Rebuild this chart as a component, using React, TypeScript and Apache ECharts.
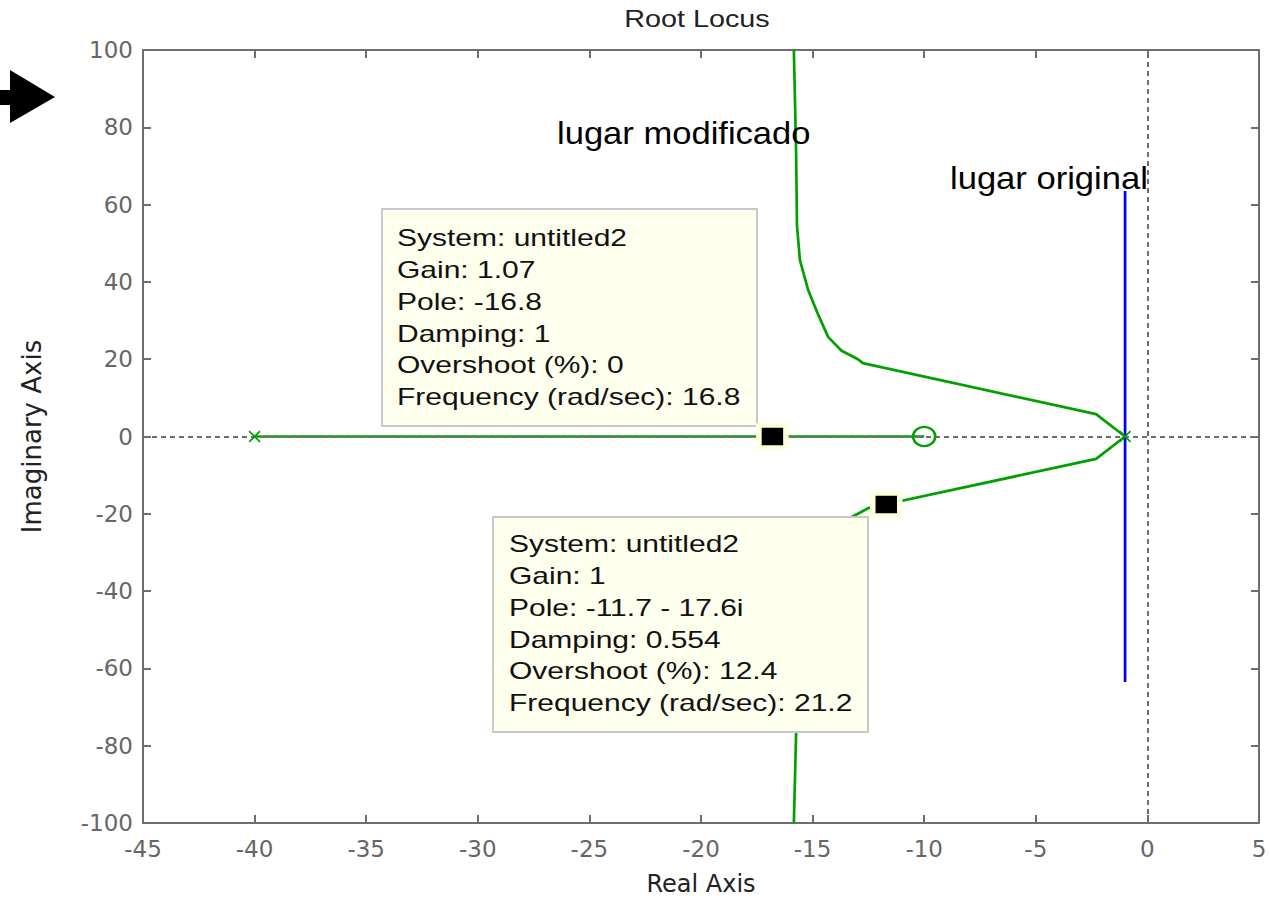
import React, { useEffect, useRef } from "react";
import * as echarts from "echarts";

const chartTitle = "Root Locus";
const xAxisName = "Real Axis";
const yAxisName = "Imaginary Axis";

const upperBranchX = [-1, -2.3, -12.75, -12.97, -13.7, -14.3, -14.74, -15.2, -15.57, -15.7, -15.74, -15.84];
const upperBranchY = [0, 5.8, 19.0, 20.0, 22.2, 25.7, 31.4, 37.9, 45.7, 54.7, 74, 100];
const lowerBranchX = [-1, -2.3, -12.5, -12.97, -13.7, -14.3, -14.74, -15.2, -15.57, -15.7, -15.74, -15.84];
const lowerBranchY = [0, -5.8, -18.5, -20.0, -22.2, -25.7, -31.4, -37.9, -45.7, -54.7, -77, -100];
const realSegmentX = [-40, -10];
const realSegmentY = [0, 0];
const originalLocusX = [-1, -1];
const originalLocusY = [63.5, -63.5];
const polesX = [-40, -1];
const polesY = [0, 0];
const zerosX = [-10];
const zerosY = [0];
const datatipX = [-16.8, -11.7];
const datatipY = [0, -17.6];

const tip1Lines = [
  "System: untitled2",
  "Gain: 1.07",
  "Pole: -16.8",
  "Damping: 1",
  "Overshoot (%): 0",
  "Frequency (rad/sec): 16.8",
];
const tip2Lines = [
  "System: untitled2",
  "Gain: 1",
  "Pole: -11.7 - 17.6i",
  "Damping: 0.554",
  "Overshoot (%): 12.4",
  "Frequency (rad/sec): 21.2",
];
const labelModified = "lugar modificado";
const labelOriginal = "lugar original";

const FONT = "DejaVu Sans";
const LIB = "Liberation Sans";
const GREEN = "#00a000";
const AXIS = "#6e6e6e";

const zip = (xs: number[], ys: number[]) => xs.map((x, i) => [x, ys[i]]);

export default function App() {
  const ref = useRef<HTMLDivElement>(null);
  useEffect(() => {
    if (!ref.current) return;
    const chart = echarts.init(ref.current, undefined, { renderer: "svg" });
    const xSymbol = "path://M0,1 L1,0 L5,4 L9,0 L10,1 L6,5 L10,9 L9,10 L5,6 L1,10 L0,9 L4,5 Z";
    const axisCommon = {
      type: "value" as const,
      axisLine: { show: true, onZero: false, lineStyle: { color: AXIS, width: 2 } },
      axisTick: { show: true, inside: true, length: 8, lineStyle: { color: AXIS, width: 2 } },
      splitLine: { show: false },
    };
    const labelStyle = { color: "#666", fontSize: 23, fontFamily: FONT };
    chart.setOption({
      animation: false,
      backgroundColor: "#fff",
      grid: { left: 143, right: 11, top: 50, bottom: 77, containLabel: false, outerBoundsMode: "none" },
      xAxis: [
        {
          ...axisCommon,
          min: -45,
          max: 5,
          interval: 5,
          position: "bottom",
          axisLabel: { ...labelStyle, margin: 14 },
          name: xAxisName,
          nameLocation: "middle",
          nameGap: 49,
          nameTextStyle: { color: "#222", fontSize: 24, fontFamily: FONT },
        },
        {
          ...axisCommon,
          min: -45,
          max: 5,
          interval: 5,
          position: "top",
          axisLabel: { show: false },
        },
      ],
      yAxis: [
        {
          ...axisCommon,
          min: -100,
          max: 100,
          interval: 20,
          position: "left",
          axisLabel: { ...labelStyle, margin: 10 },
          name: yAxisName,
          nameLocation: "middle",
          nameGap: 98,
          nameTextStyle: { color: "#222", fontSize: 26, fontFamily: FONT },
        },
        {
          ...axisCommon,
          min: -100,
          max: 100,
          interval: 20,
          position: "right",
          axisLabel: { show: false },
        },
      ],
      series: [
        {
          type: "line",
          data: zip(upperBranchX, upperBranchY),
          showSymbol: false,
          lineStyle: { color: GREEN, width: 2.7 },
          z: 2,
        },
        {
          type: "line",
          data: zip(lowerBranchX, lowerBranchY),
          showSymbol: false,
          lineStyle: { color: GREEN, width: 2.7 },
          z: 2,
        },
        {
          type: "line",
          data: zip(realSegmentX, realSegmentY),
          showSymbol: false,
          lineStyle: { color: GREEN, width: 2.7 },
          z: 2,
        },
        {
          type: "line",
          data: zip(originalLocusX, originalLocusY),
          showSymbol: false,
          lineStyle: { color: "#0000ff", width: 2.7 },
          z: 3,
        },
        {
          type: "line",
          data: [[0, 0]],
          showSymbol: false,
          lineStyle: { opacity: 0 },
          z: 4,
          markLine: {
            silent: true,
            symbol: ["none", "none"],
            label: { show: false },
            lineStyle: { type: [5, 4], color: AXIS, width: 2 },
            data: [{ xAxis: 0 }, { yAxis: 0 }],
          },
        },
        {
          type: "scatter",
          data: zip(polesX, polesY),
          symbol: xSymbol,
          symbolSize: 12,
          itemStyle: { color: GREEN, opacity: 1 },
          z: 5,
        },
        {
          type: "scatter",
          data: zip(zerosX, zerosY),
          symbol: "circle",
          symbolSize: [22, 19],
          itemStyle: { color: "transparent", borderColor: GREEN, borderWidth: 2.5, opacity: 1 },
          z: 5,
        },
        {
          type: "scatter",
          data: zip(datatipX, datatipY),
          symbol: "rect",
          symbolSize: [27, 22],
          itemStyle: { color: "#000", borderColor: "#ffffdc", borderWidth: 5, opacity: 1 },
          z: 60,
        },
      ],
      graphic: [
        {
          type: "text",
          z: 50,
          x: 697,
          y: 19,
          scaleX: 1.25,
          style: {
            text: chartTitle,
            font: `23px '${LIB}'`,
            fill: "#222",
            textAlign: "center",
            textVerticalAlign: "middle",
          },
        },
        {
          type: "polygon",
          z: 50,
          shape: { points: [[0, 90], [10, 90], [10, 70], [55, 97], [10, 123], [10, 105], [0, 105]] },
          style: { fill: "#000" },
        },
        {
          type: "text",
          z: 50,
          x: 557,
          y: 133,
          scaleX: 1.08,
          style: { text: labelModified, font: `32px '${LIB}'`, fill: "#000", textVerticalAlign: "middle" },
        },
        {
          type: "text",
          z: 50,
          x: 950,
          y: 178,
          scaleX: 1.08,
          style: { text: labelOriginal, font: `32px '${LIB}'`, fill: "#000", textVerticalAlign: "middle" },
        },
        {
          type: "rect",
          z: 50,
          shape: { x: 382, y: 209, width: 375, height: 217 },
          style: { fill: "#ffffee", stroke: "#c8c8c8", lineWidth: 2 },
        },
        {
          type: "text",
          z: 51,
          x: 397,
          y: 222,
          scaleX: 1.25,
          style: {
            text: tip1Lines.join("\n"),
            font: `24px '${LIB}'`,
            lineHeight: 31.8,
            fill: "#111",
            textVerticalAlign: "top",
          },
        },
        {
          type: "rect",
          z: 50,
          shape: { x: 493, y: 517, width: 375, height: 215 },
          style: { fill: "#ffffee", stroke: "#c8c8c8", lineWidth: 2 },
        },
        {
          type: "text",
          z: 51,
          x: 509,
          y: 528,
          scaleX: 1.25,
          style: {
            text: tip2Lines.join("\n"),
            font: `24px '${LIB}'`,
            lineHeight: 31.8,
            fill: "#111",
            textVerticalAlign: "top",
          },
        },
      ],
    });
    return () => chart.dispose();
  }, []);
  return <div ref={ref} style={{ width: 1270, height: 900, position: "absolute", left: 0, top: 0 }} />;
}
